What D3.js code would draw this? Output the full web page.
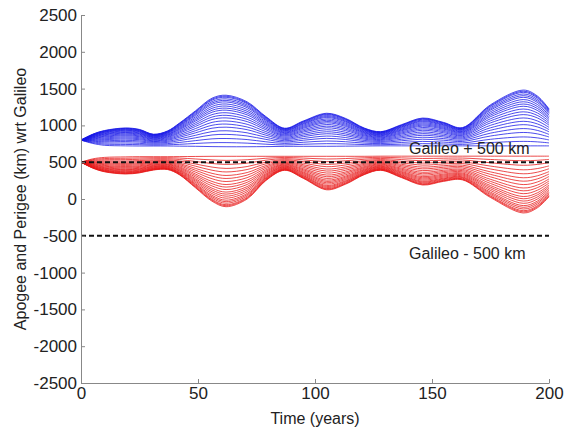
<!DOCTYPE html>
<html>
<head>
<meta charset="utf-8">
<script src="https://cdn.jsdelivr.net/npm/d3@7"></script>
<style>
  body { margin: 0; background: #fff; }
  svg { display: block; font-family: Arial, "Liberation Sans", sans-serif; }
</style>
</head>
<body>
<svg class="main" width="574" height="427"></svg>
<script>
(function () {
  'use strict';

  // time samples (years)
  const years = [0, 5, 10, 19, 25, 31, 37, 42, 49, 56, 62, 71, 79, 87, 95, 105, 113, 121, 128, 137, 146, 155, 163, 175, 189, 195, 200];

  // apogee: outermost blue curve and innermost blue curve (km wrt Galileo)
  const apogeeOuter = [800, 880, 930, 965, 945, 880, 925, 1030, 1200, 1370, 1410, 1320, 1120, 962, 1060, 1165, 1096, 965, 915, 1010, 1100, 1040, 970, 1280, 1480, 1400, 1225];
  const apogeeInner = [800, 755, 730, 722, 720, 720, 720, 718, 716, 712, 710, 710, 712, 715, 716, 716, 718, 720, 722, 722, 722, 722, 722, 722, 722, 722, 722];

  // perigee: outermost red curve and innermost red curve
  const perigeeOuter = [500, 420, 370, 340, 355, 394, 400, 330, 150, -30, -105, 0, 250, 390, 280, 125, 200, 330, 390, 290, 190, 240, 260, 20, -190, -120, 30];
  const perigeeInner = [500, 545, 565, 572, 575, 575, 575, 576, 578, 580, 580, 580, 580, 580, 580, 580, 580, 580, 582, 582, 582, 582, 582, 582, 582, 582, 582];

  // relative position of each plotted curve inside its band
  const curveShares = [0, 0.08, 0.16, 0.24, 0.31, 0.38, 0.44, 0.50, 0.56, 0.61, 0.66, 0.71, 0.75, 0.79, 0.83, 0.87, 0.90, 0.93, 0.96, 0.98, 1];

  const xTicks = [0, 50, 100, 150, 200];
  const yTicks = [-2500, -2000, -1500, -1000, -500, 0, 500, 1000, 1500, 2000, 2500];

  const refLines = [
    { value: 500, label: "Galileo + 500 km" },
    { value: -500, label: "Galileo - 500 km" }
  ];

  const svg = d3.select("svg.main");

  const x = d3.scaleLinear().domain([0, 200]).range([81, 549]);
  const y = d3.scaleLinear().domain([-2500, 2500]).range([383, 15]);

  const line = d3.line()
    .x(d => x(d.t))
    .y(d => y(d.v))
    .curve(d3.curveCatmullRom.alpha(0.5));

  function drawBand(selection, inner, outer, colour) {
    const g = selection.append("g")
      .attr("fill", "none")
      .attr("stroke", colour)
      .attr("stroke-width", 0.9)
      .attr("stroke-opacity", 0.85);

    curveShares.forEach(s => {
      const pts = years.map((t, i) => ({ t, v: inner[i] + s * (outer[i] - inner[i]) }));
      g.append("path").attr("d", line(pts));
    });
    return g;
  }

  const plot = svg.append("g");
  drawBand(plot, apogeeInner, apogeeOuter, "#1414e6");
  drawBand(plot, perigeeInner, perigeeOuter, "#e61414");

  // dashed reference lines
  refLines.forEach(r => {
    plot.append("line")
      .attr("x1", x(0))
      .attr("x2", x(200))
      .attr("y1", y(r.value))
      .attr("y2", y(r.value))
      .attr("stroke", "#111")
      .attr("stroke-width", 2)
      .attr("stroke-dasharray", "5,3");
  });

  plot.append("text")
    .attr("x", 409)
    .attr("y", 154)
    .attr("font-size", 16)
    .attr("fill", "#222")
    .text(refLines[0].label);

  plot.append("text")
    .attr("x", 409)
    .attr("y", 259)
    .attr("font-size", 16)
    .attr("fill", "#222")
    .text(refLines[1].label);

  // axes
  const fmt = d => String(d);

  const xAxis = svg.append("g")
    .attr("transform", `translate(0, ${y(-2500)})`)
    .call(d3.axisBottom(x).tickValues(xTicks).tickFormat(fmt).tickSizeInner(-4).tickSizeOuter(0).tickPadding(4));

  const yAxis = svg.append("g")
    .attr("transform", `translate(${x(0)}, 0)`)
    .call(d3.axisLeft(y).tickValues(yTicks).tickFormat(fmt).tickSizeInner(-4).tickSizeOuter(0).tickPadding(4));

  [xAxis, yAxis].forEach(a => {
    a.select(".domain").attr("stroke", "#888");
    a.selectAll(".tick line").attr("stroke", "#888");
    a.selectAll(".tick text")
      .attr("font-size", 17)
      .attr("font-family", "Arial, 'Liberation Sans', sans-serif")
      .attr("fill", "#222");
  });

  svg.append("text")
    .attr("x", x(100))
    .attr("y", 424)
    .attr("text-anchor", "middle")
    .attr("font-size", 16)
    .attr("fill", "#222")
    .text("Time (years)");

  svg.append("text")
    .attr("transform", `translate(26, ${y(0)}) rotate(-90)`)
    .attr("text-anchor", "middle")
    .attr("font-size", 16)
    .attr("fill", "#222")
    .text("Apogee and Perigee (km) wrt Galileo");
}());
</script>
</body>
</html>
